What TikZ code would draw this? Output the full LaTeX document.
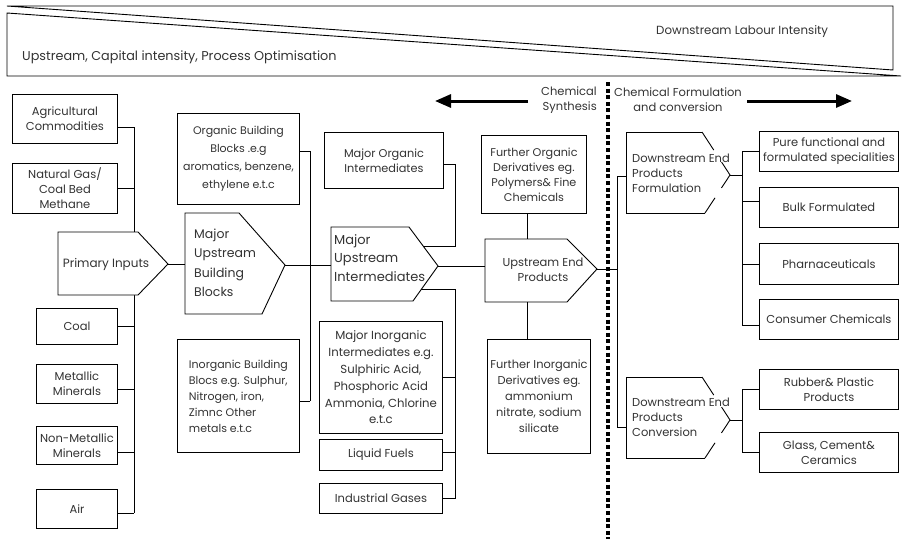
\documentclass[tikz,border=0pt]{standalone}
\usepackage{fontspec}
\setmainfont{Poppins}
\usetikzlibrary{arrows.meta,calc}
\newcommand\setfs[2]{\fontsize{#1}{#2}\selectfont}
\begin{document}
\begin{tikzpicture}[x=1pt,y=-1pt,
  font=\setfs{11.5}{15},
  link/.style={line width=0.9pt, black},
  boxnode/.style={draw, line width=0.9pt, fill=white, inner sep=0pt, align=center,
                  anchor=north west, text=black!80},
  tag/.style={inner sep=0pt, text=black!80},
  shapeline/.style={draw, line width=0.9pt, fill=white, line join=miter},
  flow/.style={line width=3pt, -{Triangle[length=16pt,width=13pt]}},
  divider/.style={line width=3.4pt, dash pattern=on 4pt off 2.6pt},
  dep/.pic={
    \fill[white] (0,0) -- (76,0) -- (104,43) -- (79,81) -- (0,81) -- cycle;
    \draw[link] (76,0) -- (0,0) -- (0,81) -- (79,81);
    \draw[link] (76,0) -- ($(76,0)!0.42!(104,43)$);
    \draw[link] ($(76,0)!0.70!(104,43)$) -- (104,43) -- ($(104,43)!0.34!(79,81)$);
    \draw[link] ($(104,43)!0.60!(79,81)$) -- (79,81);
    \coordinate (-tip) at (104,43);
  }
]
\useasboundingbox (0,0) rectangle (903,539);

% ---- intensity banner ----
\draw[link] (7,6) -- (893,6) -- (893,70) -- cycle;
\draw[link] (7,13) -- (7,76) -- (901,76) -- cycle;
\node[tag, anchor=west, font=\setfs{12.8}{15}] (upband) at (22,57) {Upstream, Capital intensity, Process Optimisation};
\node[tag, anchor=west, font=\setfs{11.8}{15}] (downband) at (656,32) {Downstream Labour Intensity};

% ---- synthesis / formulation divider ----
\coordinate (divtop) at (608,82);
\coordinate (divbot) at (608,539);
\draw[divider] (divtop) -- (divbot);

\coordinate (synA) at (528,101);
\coordinate (synB) at (435,101);
\draw[flow] (synA) -- (synB);
\node[tag, align=right, anchor=east] (syn) at (597,100) {Chemical\\Synthesis};

\coordinate (forA) at (747,101);
\coordinate (forB) at (852,101);
\draw[flow] (forA) -- (forB);
\node[tag, align=center] (form) at (678,100) {Chemical Formulation\\and conversion};

% ---- primary inputs column ----
\node[boxnode, minimum width=105pt, minimum height=49pt] (agri) at (12,94) {Agricultural\\Commodities};
\node[boxnode, minimum width=105pt, minimum height=50pt] (ngas) at (12,163) {Natural Gas/\\Coal Bed\\Methane};
\node[boxnode, minimum width=81pt, minimum height=36pt] (coal) at (36,308) {Coal};
\node[boxnode, minimum width=81pt, minimum height=39pt] (metal) at (36,364) {Metallic\\Minerals};
\node[boxnode, minimum width=81pt, minimum height=38pt] (nonmetal) at (36,426) {Non-Metallic\\Minerals};
\node[boxnode, minimum width=81pt, minimum height=39pt] (air) at (36,489) {Air};

\coordinate (lsp) at (134,127);
\coordinate (lspbot) at (134,513);
\draw[link] (lsp) -- (lspbot);
\draw[link] (agri.east |- lsp) -- (lsp);
\draw[link] (ngas.east) -- (ngas.east -| lsp);
\draw[link] (coal.east) -- (coal.east -| lsp);
\draw[link] ($(metal.east)+(0,5.5)$) -- ($(metal.east -| lsp)+(0,5.5)$);
\draw[link] ($(nonmetal.east)+(0,7)$) -- ($(nonmetal.east -| lsp)+(0,7)$);
\draw[link] (air.east |- lspbot) -- (lspbot);

% primary inputs
\draw[shapeline] (58,232) -- (138,232) -- (168,264) -- (138,295) -- (58,295) -- cycle;
\node[tag, font=\setfs{12}{15}] (pi) at (106,264) {Primary Inputs};
\coordinate (pitip) at (168,264);

% ---- upstream building blocks ----
\draw[shapeline] (185,213) -- (239,213) -- (285,265) -- (262,314) -- (185,314) -- cycle;
\coordinate (mubbin) at (185,264);
\coordinate (mubbtip) at (285,265);
\node[tag, align=left, anchor=west, font=\setfs{12.5}{19.5}] (mubb) at (194,263) {Major\\Upstream\\Building\\Blocks};
\draw[link] (pitip) -- (mubbin);

\node[boxnode, minimum width=122pt, minimum height=91pt, font=\setfs{11}{18}] (obb) at (177,113) {Organic Building\\Blocks .e.g\\aromatics, benzene,\\ethylene e.t.c};
\node[boxnode, minimum width=122pt, minimum height=113pt, align=left, font=\setfs{11}{16}] (ibb) at (177,339) {Inorganic Building\\Blocs e.g. Sulphur,\\Nitrogen, iron,\\Zimnc Other\\metals e.t.c};

\coordinate (msp) at (310,151);
\coordinate (mspbot) at (310,401);
\draw[link] (msp) -- (mspbot);
\draw[link] (obb.east |- msp) -- (msp);
\draw[link] (ibb.east |- mspbot) -- (mspbot);

% ---- upstream intermediates ----
\coordinate (muiin) at (331,265);
\draw[link] (mubbtip) -- (muiin);
\draw[shapeline] (331,227) -- (409,227) -- (438,266) -- (413,301) -- (331,301) -- cycle;
\node[tag, align=left, anchor=west, font=\setfs{13}{18.5}] (mui) at (334,258) {Major\\Upstream\\Intermediates};
\coordinate (muitop) at (423,246);
\coordinate (muibot) at (421,289);
\coordinate (muitip) at (438,266);

\node[boxnode, minimum width=119pt, minimum height=56pt, font=\setfs{11.3}{15}] (moi) at (324,132) {Major Organic\\Intermediates};
\node[boxnode, minimum width=123pt, minimum height=112pt, font=\setfs{11.7}{16.8}] (mii) at (319,321) {Major Inorganic\\Intermediates e.g.\\Sulphiric Acid,\\Phosphoric Acid\\Ammonia, Chlorine\\e.t.c};
\node[boxnode, minimum width=123pt, minimum height=31pt] (lfuel) at (319,439) {Liquid Fuels};
\node[boxnode, minimum width=123pt, minimum height=30pt] (igas) at (319,483) {Industrial Gases};

\coordinate (rsp) at (455,164);
\draw[link] (moi.east |- rsp) -- (rsp) -- (rsp |- muitop) -- (muitop);
\draw[link] (muibot) -- (muibot -| rsp) -- (igas.east -| rsp) -- (igas.east);
\draw[link] (mii.east) -- (mii.east -| rsp);
\draw[link] ($(lfuel.east)+(0,-2.5)$) -- ($(lfuel.east -| rsp)+(0,-2.5)$);

% ---- upstream end products ----
\coordinate (uepin) at (485,266);
\draw[link] (muitip) -- (uepin);
\draw[shapeline] (485,239) -- (567,239) -- (597,269) -- (567,302) -- (485,302) -- cycle;
\node[tag, align=center] (uep) at (543,269.5) {Upstream End\\Products};
\coordinate (ueptop) at (527,239);
\coordinate (uepbot) at (527,302);
\coordinate (ueptip) at (597,269);

\node[boxnode, minimum width=105pt, minimum height=78pt, font=\setfs{11.2}{15}] (fod) at (481,135) {Further Organic\\Derivatives eg.\\Polymers\& Fine\\Chemicals};
\node[boxnode, minimum width=103pt, minimum height=114pt, font=\setfs{11.4}{16}] (fid) at (487,339) {Further Inorganic\\Derivatives eg.\\ammonium\\nitrate, sodium\\silicate};
\draw[link] (fod.south -| ueptop) -- (ueptop);
\draw[link] (uepbot) -- (fid.north -| uepbot);

% ---- downstream ----
\coordinate (dsp) at (617,176);
\coordinate (dspbot) at (617,427);
\draw[link] (ueptip) -- (ueptip -| dsp);
\draw[link] (dsp) -- (dspbot);

\pic (depf) at (626,132) {dep};
\pic (depc) at (626,377) {dep};
\draw[link] (dsp) -- ++(9,0);
\draw[link] (dspbot) -- ++(9,0);
\node[tag, align=left, anchor=west] (depftxt) at (632,173) {Downstream End\\Products\\Formulation};
\node[tag, align=left, anchor=west] (depctxt) at (632,417.5) {Downstream End\\Products\\Conversion};

\node[boxnode, minimum width=139pt, minimum height=40pt] (pure) at (759,131) {Pure functional and\\formulated specialities};
\node[boxnode, minimum width=139pt, minimum height=40pt] (bulk) at (759,187) {Bulk Formulated};
\node[boxnode, minimum width=139pt, minimum height=41pt] (pharm) at (759,243) {Pharnaceuticals};
\node[boxnode, minimum width=139pt, minimum height=40pt] (cons) at (759,299) {Consumer Chemicals};
\node[boxnode, minimum width=139pt, minimum height=40pt] (rubb) at (759,369) {Rubber\& Plastic\\Products};
\node[boxnode, minimum width=139pt, minimum height=40pt] (glass) at (759,432) {Glass, Cement\&\\Ceramics};

\coordinate (fsp) at (742,151);
\coordinate (fspbot) at (742,325);
\draw[link] (fsp) -- (fspbot);
\draw[link] (depf-tip) -- (depf-tip -| fsp);
\draw[link] (pure.west) -- (pure.west -| fsp);
\draw[link] ($(bulk.west)+(0,-6)$) -- ($(bulk.west -| fsp)+(0,-6)$);
\draw[link] (pharm.west) -- (pharm.west -| fsp);
\draw[link] (cons.west |- fspbot) -- (fspbot);

\coordinate (csp) at (742,389);
\coordinate (cspbot) at (742,452);
\draw[link] (csp) -- (cspbot);
\draw[link] (depc-tip) -- (depc-tip -| csp);
\draw[link] (rubb.west) -- (rubb.west -| csp);
\draw[link] (glass.west) -- (glass.west -| csp);
\end{tikzpicture}
\end{document}
